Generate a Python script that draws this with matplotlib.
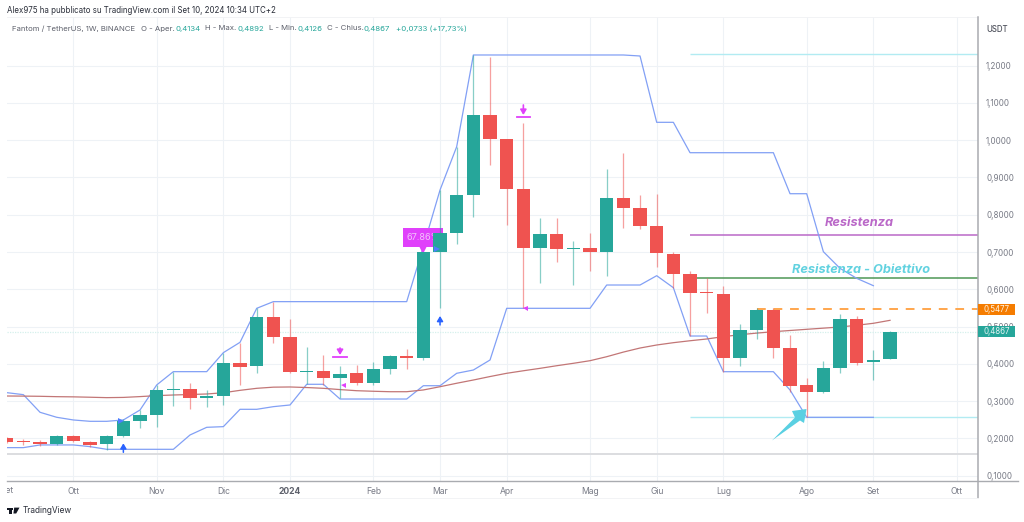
import matplotlib
matplotlib.use("Agg")
import matplotlib.pyplot as plt
from matplotlib.lines import Line2D
from matplotlib.patches import Rectangle, Polygon
from matplotlib.transforms import Bbox

plt.rcParams['font.family'] = ['Inter', 'DejaVu Sans']

# weekly candles FTM/USDT
opens = [.2002, .1932, .1896, .1851, .2066, .1914, .1842, .2066, .2477, .2629,
         .3300, .3326, .3085, .3148, .4024, .3934, .5249, .4730, .3791, .3808,
         .3629, .3747, .3479, .3854, .4211, .4167, .7010, .7502, .8530, 1.0676,
         1.0032, .8700, .7117, .7475, .7091, .7117, .7010, .8458, .8181, .7698,
         .6957, .6419, .5928, .5883, .4157, .4899, .5436, .4426, .3424, .3237,
         .3898, .5203, .4041, .4134]
closes = [.1914, .1896, .1851, .2066, .1923, .1834, .2066, .2468, .2620, .3300,
          .3326, .3085, .3148, .4024, .3925, .5249, .4730, .3791, .3809, .3621,
          .3736, .3479, .3854, .4211, .4165, .7010, .7502, .8530, 1.0676, 1.0041,
          .8700, .7117, .7475, .7082, .7117, .7010, .8458, .8181, .7698, .6966,
          .6420, .5910, .5901, .4157, .4899, .5436, .4435, .3415, .3237, .3898,
          .5203, .4032, .4113, .4867]
highs = [.2030, .1976, .1958, .2084, .2084, .1941, .2084, .2513, .2763, .3434,
         .3791, .3478, .3300, .4301, .4569, .5490, .5669, .5195, .4462, .4238,
         .3951, .3969, .4050, .4238, .4399, .7010, .8664, .9826, 1.2285, 1.2240,
         1.0032, 1.0470, .7904, .7922, .7305, .7502, .9227, .9647, .8530, .8557,
         .7001, .6482, .6294, .6097, .5060, .5490, .5490, .4774, .3630, .4077,
         .5338, .5275, .4372, .4892]
lows = [.1887, .1825, .1807, .1825, .1896, .1762, .1690, .2048, .2289, .2316,
        .2870, .2781, .2852, .2888, .3434, .3747, .4569, .3747, .3461, .3433,
        .3084, .3433, .3433, .3728, .3854, .4105, .5490, .7216, .7931, .9335,
        .7725, .5490, .6161, .6742, .6116, .6500, .6366, .7636, .7627, .6608,
        .6027, .4747, .5355, .3791, .3952, .4658, .4148, .3254, .2566, .3228,
        .3746, .3970, .3567, .4126]

# upper and lower channel, ending one bar before the last candle
upper = [.3228, .3174, .2701, .2567, .2495, .2459, .2459, .2495, .2763, .3434,
         .3791, .3791, .3791, .4301, .4578, .5490, .5669, .5669, .5669, .5669,
         .5669, .5669, .5669, .5669, .5669, .7144, .8664, .9826, 1.2285, 1.2285,
         1.2285, 1.2285, 1.2285, 1.2285, 1.2285, 1.2285, 1.2285, 1.2285, 1.2258, 1.0479,
         1.0479, .9664, .9664, .9664, .9664, .9664, .9664, .8564, .8564, .7009,
         .6562, .6294, .6097]
lower = [.1753, .1753, .1825, .1825, .1825, .1780, .1708, .1708, .1708, .1708,
         .1708, .2093, .2298, .2316, .2781, .2781, .2852, .2897, .3452, .3452,
         .3057, .3057, .3057, .3057, .3057, .3414, .3414, .3747, .3835, .4104,
         .5490, .5490, .5490, .5490, .5490, .5490, .6115, .6115, .6115, .6365,
         .6043, .4747, .4747, .3790, .3790, .3790, .3790, .3299, .2566, .2566,
         .2566, .2566, .2566]
ma = [.3138, .3135, .3130, .3120, .3115, .3105, .3094, .3100, .3122, .3148,
      .3165, .3178, .3192, .3225, .3290, .3344, .3375, .3380, .3365, .3344,
      .3310, .3280, .3265, .3253, .3253, .3300, .3387, .3480, .3567, .3660,
      .3747, .3815, .3880, .3950, .4015, .4085, .4192, .4316, .4425, .4506,
      .4568, .4620, .4667, .4730, .4782, .4825, .4863, .4895, .4927, .4958,
      .4989, .5035, .5088, .5168]

# drawn levels: value, first bar
level_top = (1.2312, 41)
level_purple = (.7456, 41)
level_green = (.6302, 41.3)
level_orange = (.5477, 45)
level_cyan = (.2582, 41)
level_gray = .1590
last_close = .4867

month_pos = [4, 9, 13, 17, 22, 26, 30, 35, 39, 43, 48, 52, 57]
month_labels = ['Ott', 'Nov', 'Dic', '2024', 'Feb', 'Mar', 'Apr', 'Mag', 'Giu', 'Lug', 'Ago', 'Set', 'Ott']
price_ticks = [.1, .2, .3, .4, .5, .6, .7, .8, .9, 1.0, 1.1, 1.2]
price_labels = ['0,1000', '0,2000', '0,3000', '0,4000', '0,5000', '0,6000', '0,7000', '0,8000',
                '0,9000', '1,0000', '1,1000', '1,2000']

GREEN = '#26a69a'
RED = '#ef5350'
BLUE = '#82a0f5'
MAGENTA = '#e040fb'
CYAN = '#b2ebf2'
W, H = 1024, 522

fig = plt.figure(figsize=(W / 100, H / 100), dpi=100, facecolor='white')
ax = fig.add_axes([6.7 / W, 1 - 481 / H, (977.7 - 6.7) / W, (481 - 17) / H])
ax.set_xlim(0, 58.26)
ax.set_ylim(.0858, 1.3304)


def label(x, y, s, **kw):
    # figure text at pixel position of the picture
    kw.setdefault('va', 'center')
    kw.setdefault('fontsize', 5.7)
    return fig.text(x / W, 1 - y / H, s, **kw)


def fig_rect(x0, y0, x1, y1, color):
    fig.add_artist(Rectangle((x0 / W, 1 - y1 / H), (x1 - x0) / W, (y1 - y0) / H, color=color,
                             lw=0, transform=fig.transFigure, zorder=2))


def fig_line(x0, y0, x1, y1, color, lw):
    fig.add_artist(Line2D([x0 / W, x1 / W], [1 - y0 / H, 1 - y1 / H], color=color, lw=lw,
                          transform=fig.transFigure, zorder=1))


def fig_poly(points, color, zorder=2):
    pts = [(x / W, 1 - y / H) for x, y in points]
    fig.add_artist(Polygon(pts, color=color, lw=0, transform=fig.transFigure, zorder=zorder))


# grid
ax.set_xticks(month_pos)
ax.set_xticklabels(month_labels, fontsize=6.2, color='#787b86')
ax.get_xticklabels()[3].set_fontweight('bold')
ax.get_xticklabels()[3].set_color('#5d606b')
ax.set_yticks(price_ticks)
ax.set_yticklabels(price_labels, fontsize=5.8, color='#787b86')
ax.yaxis.tick_right()
ax.tick_params(length=0)
ax.tick_params(axis='x', pad=4.5)
ax.tick_params(axis='y', pad=6)
ax.grid(True, color='#eef2f6', lw=0.8)
ax.set_axisbelow(True)
for side in ax.spines:
    ax.spines[side].set_visible(False)

# horizontal levels
ax.axhline(level_gray, color='#dcdde0', lw=1.4, zorder=1)
ax.axhline(last_close, color='#d5f0ec', lw=0.9, ls=(0, (1, 1)), zorder=1)
ax.hlines(level_top[0], level_top[1], 58.26, color=CYAN, lw=1, zorder=1.5)
ax.hlines(level_cyan[0], level_cyan[1], 58.26, color=CYAN, lw=1, zorder=1.5)
ax.hlines(level_purple[0], level_purple[1], 58.26, color='#ba68c8', lw=1.1, zorder=1.5)
ax.hlines(level_green[0], level_green[1], 58.26, color='#5c9f63', lw=1.2, zorder=1.5)
ax.hlines(level_orange[0], level_orange[1], 58.26, color='#ffa64d', lw=1.4, ls=(0, (4.5, 4)), zorder=1.5)

# channel and average
ax.plot(range(len(upper)), upper, color=BLUE, lw=0.9, zorder=2)
ax.plot(range(len(lower)), lower, color=BLUE, lw=0.9, zorder=2)
ax.plot(range(len(ma)), ma, color='#c27676', lw=0.9, zorder=2.1)

# alert flag, sits under the next candle
ax.add_patch(Rectangle((23.8, .7134), 2.38, .051, color=MAGENTA, lw=0, zorder=2.5))
ax.plot([25], [.7090], marker='v', ms=7, color=MAGENTA, mew=0, zorder=2.5)
ax.text(25, .7395, '67.86%', color='#f3c4fb', fontsize=6.6, ha='center', va='center', zorder=2.6)

# candles
for i in range(len(opens)):
    c = GREEN if closes[i] >= opens[i] else RED
    ax.vlines(i, lows[i], highs[i], color=c, lw=0.9, alpha=0.55, zorder=3)
    ax.bar(i, max(abs(closes[i] - opens[i]), .003), bottom=min(opens[i], closes[i]),
           width=0.8, color=c, lw=0, zorder=3.2)

# signals on the chart
for x, y0, y1 in [(20, .4425, .4238), (31, 1.0944, 1.0676)]:
    ax.annotate('', xy=(x, y1), xytext=(x, y0), zorder=4,
                arrowprops=dict(arrowstyle='-|>,head_width=0.18,head_length=0.3', color=MAGENTA, lw=1.2, shrinkA=0, shrinkB=0))
    ax.plot([x - .4, x + .4], [y1 - .0045, y1 - .0045], color=MAGENTA, lw=1.3, zorder=4)
for x, y0, y1 in [(7, .1628, .1869), (26, .5043, .5285)]:
    ax.annotate('', xy=(x, y1), xytext=(x, y0), zorder=4,
                arrowprops=dict(arrowstyle='-|>,head_width=0.18,head_length=0.3', color='#2962ff', lw=1.1, shrinkA=0, shrinkB=0))
ax.plot([20.16, 31.1], [.3433, .5490], ls='', marker='<', ms=3.6, color=MAGENTA, mew=0, zorder=4)
ax.plot([6.84, 25.8], [.2467, .7081], ls='', marker='>', ms=4, color='#4d7dff', mew=0, zorder=4)

# notes
ax.text(51.14, .7765, 'Resistenza', color='#ba68c8', fontsize=9.2, style='italic', fontweight='bold',
        ha='center', va='center', zorder=5)
ax.text(51.24, .6518, 'Resistenza - Obiettivo', color='#62d2e0', fontsize=9.2, style='italic', fontweight='bold',
        ha='center', va='center', zorder=5)

# big cyan arrow
fig_poly([(772, 440.5), (795, 417.5), (792, 411), (806.5, 409), (804, 423), (800, 420.5)], '#5ad0e2')

# left edge month, half cut off in the picture
first = label(6.7, 490.2, 'Set', fontsize=6.2, color='#787b86', ha='center')
first.set_clip_box(Bbox([[6.7, 0], [40, H]]))
first.set_clip_on(True)

# frame of the price and time scale
fig_line(6.7, 17, 977.7, 17, '#f2f3f5', 0.7)
fig_line(6.7, 481, 1018, 481, '#a9abb0', 1)
fig_line(977.7, 17, 977.7, 498, '#a9abb0', 1.1)
fig_line(80, 498, 977.7, 498, '#f2f3f5', 0.7)

# price tags
fig_rect(978.2, 304, 1015, 314.5, '#f57c00')
label(997, 309.3, '0,5477', color='#fff3e0', ha='center', zorder=3)
fig_rect(978.2, 326, 1015, 337, GREEN)
label(997, 331.5, '0,4867', color='#e0f2f1', ha='center', zorder=3)
label(997, 29, 'USDT', color='#50535e', ha='center', fontweight='medium')

# header
label(7, 10.5, 'Alex975 ha pubblicato su TradingView.com il Set 10, 2024 10:34 UTC+2', color='#2a2e39')
for x, s, c in [(12, 'Fantom / TetherUS, 1W, BINANCE', '#5d606b'), (141, 'O - Aper.', '#5d606b'), (175, '0,4134', GREEN),
                (205, 'H - Max.', '#5d606b'), (237, '0,4892', GREEN), (269, 'L - Min.', '#5d606b'), (297, '0,4126', GREEN),
                (327, 'C - Chius.', '#5d606b'), (364, '0,4867', GREEN), (396, '+0,0733 (+17,73%)', GREEN)]:
    label(x, 28.5, s, color=c, fontsize=5.6)

# footer logo
fig_rect(6.7, 507.6, 13.2, 510, '#131722')
fig_rect(9.2, 507.6, 11.8, 513.5, '#131722')
fig_poly([(14.2, 507.6), (19.5, 507.6), (16.2, 513.5), (13.4, 513.5)], '#131722')
label(22.5, 510.5, 'TradingView', color='#2a2e39', fontsize=6)

fig.savefig('out.png', dpi=100)
